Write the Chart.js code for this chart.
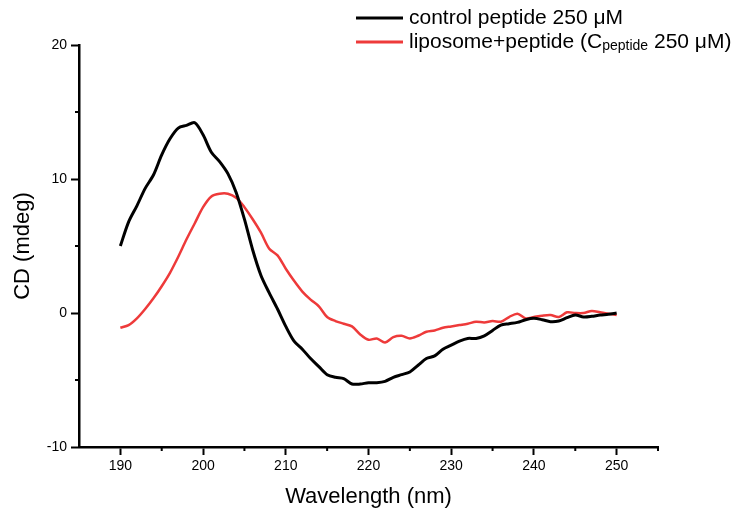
<!DOCTYPE html>
<html>
<head>
<meta charset="utf-8">
<script src="https://cdn.jsdelivr.net/npm/chart.js@4/dist/chart.umd.min.js"></script>
<style>
  html, body { margin: 0; padding: 0; background: #fff; }
  #wrap { width: 747px; height: 512px; }
</style>
</head>
<body>
<div id="wrap"><canvas id="cd_chart" width="747" height="512"></canvas></div>
<script>
// wavelength (nm), 1 nm steps
const wavelengths = [190,191,192,193,194,195,196,197,198,199,200,201,202,203,204,205,206,207,208,209,
  210,211,212,213,214,215,216,217,218,219,220,221,222,223,224,225,226,227,228,229,
  230,231,232,233,234,235,236,237,238,239,240,241,242,243,244,245,246,247,248,249,250];

// CD signal (mdeg)
const controlPeptide = [5.0,6.8,8.0,9.3,10.3,11.8,13.0,13.8,14.0,14.2,13.3,12.0,11.3,10.4,9.0,7.0,4.7,2.8,1.5,0.3,
  -1.0,-2.1,-2.7,-3.4,-4.0,-4.6,-4.8,-4.9,-5.3,-5.3,-5.2,-5.2,-5.1,-4.8,-4.6,-4.4,-3.9,-3.4,-3.2,-2.7,
  -2.4,-2.1,-1.9,-1.9,-1.7,-1.3,-0.9,-0.8,-0.7,-0.5,-0.4,-0.5,-0.65,-0.6,-0.35,-0.15,-0.3,-0.25,-0.15,-0.1,0.0];

const liposomePeptide = [-1.1,-0.9,-0.4,0.3,1.1,2.0,3.0,4.2,5.5,6.7,7.9,8.7,8.9,8.9,8.6,7.9,7.0,6.0,4.8,4.3,
  3.3,2.4,1.6,1.0,0.5,-0.3,-0.6,-0.8,-1.0,-1.6,-2.0,-1.9,-2.2,-1.8,-1.7,-1.9,-1.7,-1.4,-1.3,-1.1,
  -1.0,-0.9,-0.8,-0.65,-0.7,-0.6,-0.65,-0.3,-0.05,-0.4,-0.3,-0.2,-0.15,-0.3,0.05,0.0,0.0,0.15,0.05,-0.05,-0.15];

const xTicks = [190, 200, 210, 220, 230, 240, 250];
const xMinorTicks = [195, 205, 215, 225, 235, 245];
const yMinorTicks = [-5, 5, 15];

const seriesLabels = ['control peptide 250 μM', 'liposome+peptide (C_{peptide} 250 μM)'];

const toPoints = (ys) => ys.map((y, i) => ({x: wavelengths[i], y: y}));

// small outward ticks between the labelled ones
const minorTicks = {
  id: 'minorTicks',
  afterDraw(chart) {
    const c = chart.ctx, xs = chart.scales.x, ys = chart.scales.y;
    c.save();
    c.strokeStyle = '#000';
    c.lineWidth = 2;
    c.beginPath();
    xMinorTicks.forEach(v => {
      const px = xs.getPixelForValue(v);
      c.moveTo(px, xs.top); c.lineTo(px, xs.top + 4);
    });
    c.moveTo(xs.right, xs.top); c.lineTo(xs.right, xs.top + 4);
    yMinorTicks.forEach(v => {
      const py = ys.getPixelForValue(v);
      c.moveTo(ys.right, py); c.lineTo(ys.right - 4, py);
    });
    c.stroke();
    c.restore();
  }
};

// legend with a subscript in the second label
const subLegend = {
  id: 'subLegend',
  afterDraw(chart) {
    const c = chart.ctx;
    const rows = [18, 42];
    c.save();
    chart.data.datasets.forEach((ds, i) => {
      const y = rows[i];
      c.strokeStyle = ds.borderColor;
      c.lineWidth = 3;
      c.beginPath(); c.moveTo(356, y); c.lineTo(403, y); c.stroke();
      c.fillStyle = '#000';
      c.textBaseline = 'middle';
      let x = 409;
      const parts = ds.label.split(/(_\{[^}]*\})/);
      parts.forEach(p => {
        if (!p) return;
        if (p.startsWith('_{')) {
          const s = p.slice(2, -1);
          c.font = '14px "Liberation Sans", Arial, sans-serif';
          c.fillText(s, x, y + 4);
          x += c.measureText(s).width;
        } else {
          c.font = '21px "Liberation Sans", Arial, sans-serif';
          c.fillText(p, x, y);
          x += c.measureText(p).width;
        }
      });
    });
    c.restore();
  }
};

const ctx = document.getElementById('cd_chart').getContext('2d');
const chart = new Chart(ctx, {
  type: 'line',
  data: {
    datasets: [{
      label: seriesLabels[0],
      data: toPoints(controlPeptide),
      borderColor: '#000000',
      borderWidth: 3,
      pointRadius: 0,
      tension: 0.3
    }, {
      label: seriesLabels[1],
      data: toPoints(liposomePeptide),
      borderColor: '#ee3a3a',
      borderWidth: 2.5,
      pointRadius: 0,
      tension: 0.3
    }]
  },
  options: {
    responsive: false,
    animation: false,
    layout: { padding: { left: 0, right: 89, top: 45, bottom: 0 } },
    plugins: { legend: { display: false }, tooltip: { enabled: false } },
    scales: {
      x: {
        type: 'linear',
        min: 185,
        max: 255,
        afterFit: (s) => { s.height = 65; },
        afterBuildTicks: (s) => { s.ticks = xTicks.map(v => ({value: v})); },
        grid: { drawOnChartArea: false, drawTicks: true, tickLength: 8, tickWidth: 2, tickColor: '#000' },
        border: { color: '#000', width: 2.5 },
        ticks: { color: '#000', padding: 3, font: { size: 14, family: '"Liberation Sans", Arial, sans-serif' } },
        title: { display: true, text: 'Wavelength (nm)', color: '#000',
                 font: { size: 22, family: '"Liberation Sans", Arial, sans-serif' }, padding: { top: 0, bottom: 2 } }
      },
      y: {
        min: -10,
        max: 20,
        afterFit: (s) => { s.width = 79; },
        ticks: { stepSize: 10, color: '#000', padding: 4, font: { size: 14, family: '"Liberation Sans", Arial, sans-serif' } },
        grid: { drawOnChartArea: false, drawTicks: true, tickLength: 8, tickWidth: 2, tickColor: '#000' },
        border: { color: '#000', width: 2.5 },
        title: { display: true, text: 'CD (mdeg)', color: '#000',
                 font: { size: 22, family: '"Liberation Sans", Arial, sans-serif' }, padding: { top: 10, bottom: 0 } }
      }
    }
  },
  plugins: [minorTicks, subLegend]
});
</script>
</body>
</html>
